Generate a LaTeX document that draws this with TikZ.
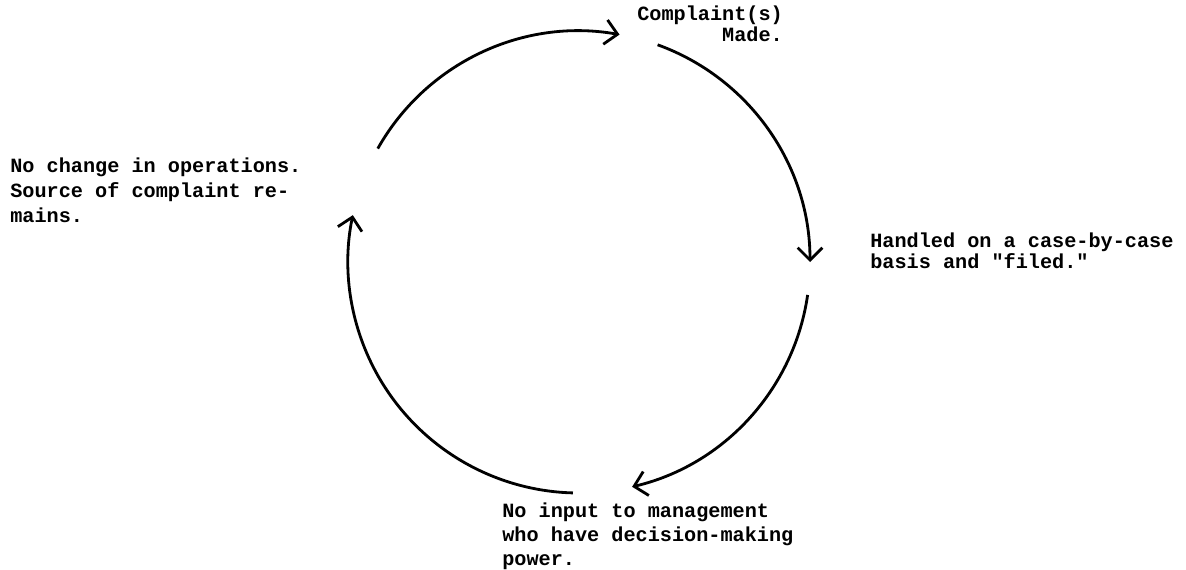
\documentclass[tikz,border=0pt]{standalone}
\usepackage{fontspec}
\newfontfamily\typer{Liberation Mono}
\usetikzlibrary{arrows.meta}
\tikzset{
  note/.style={anchor=base west, inner sep=0pt, align=left, font=\typer\bfseries\fontsize{11.5}{#1}\selectfont},
  loopline/.style={->, line width=1.6pt},
}
\begin{document}
\begin{tikzpicture}[>={Straight Barb[length=7pt,width=14pt]}]
    \useasboundingbox (0,0) rectangle (23.72,-11.4);
    \coordinate (O) at (11.58,-5.24);
    % ends of the four arcs
    \coordinate (a1) at ([shift={(150.6:4.62)}]O);
    \coordinate (a2) at ([shift={(70.1:4.62)}]O);
    \coordinate (a3) at ([shift={(-8.2:4.62)}]O);
    \coordinate (a4) at ([shift={(268.5:4.62)}]O);
    \draw[loopline] (a1) arc[start angle=150.6, end angle=79.9, radius=4.62];
    \draw[loopline] (a2) arc[start angle=70.1, end angle=0, radius=4.62];
    \draw[loopline] (a3) arc[start angle=-8.2, end angle=-76.7, radius=4.62];
    \draw[loopline] (a4) arc[start angle=268.5, end angle=168.3, radius=4.62];
    % texts (base = last line)
    \node[note=10.4, align=right] (made) at (12.74,-0.82) {Complaint(s)\\Made.};
    \node[note=11.9] (filed) at (17.40,-5.36) {Handled on a case-by-case\\basis and "filed."};
    \node[note=13.6] (input) at (10.04,-11.3) {No input to management\\who have decision-making\\power.};
    \node[note=14.2] (remains) at (0.20,-4.44) {No change in operations.\\Source of complaint re-\\mains.};
\end{tikzpicture}
\end{document}
